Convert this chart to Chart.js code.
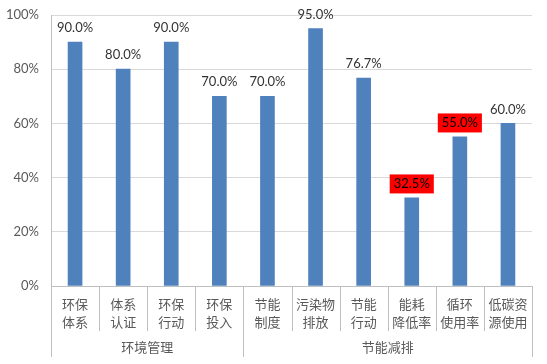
<!DOCTYPE html>
<html>
<head>
<meta charset="utf-8">
<script src="https://cdn.jsdelivr.net/npm/chart.js@4.4.0/dist/chart.umd.min.js"></script>
<style>
  html, body { margin: 0; padding: 0; background: #fff; }
  #wrap { width: 547px; height: 364px; }
</style>
</head>
<body>
<div id="wrap"><canvas id="chart"></canvas></div>
<script>
// ── Data ─────────────────────────────────────────────
const categories = [
    ["环保", "体系"], ["体系", "认证"], ["环保", "行动"], ["环保", "投入"],
    ["节能", "制度"], ["污染物", "排放"], ["节能", "行动"], ["能耗", "降低率"],
    ["循环", "使用率"], ["低碳资", "源使用"]
];
const values = [90.0, 80.0, 90.0, 70.0, 70.0, 95.0, 76.7, 32.5, 55.0, 60.0];
const groupNames = ["环境管理", "节能减排"];
const groupSizes = [4, 6];
const highlighted = [7, 8];
const yMax = 100;
const yStep = 20;

const FONT = "Lato, 'Noto Sans CJK SC', sans-serif";
const TEXT = "#595959";
const LINE = "#bfbfbf";

// ── Axis decorations: category dividers and group labels ──
const groupAxisPlugin = {
    id: "groupAxis",
    afterDraw(chart) {
        const { ctx } = chart;
        const x = chart.scales.x;
        const base = chart.chartArea.bottom;
        const n = categories.length;
        const edge = (i) => {
            if (i === 0) return x.left;
            if (i === n) return x.right;
            return (x.getPixelForValue(i - 1) + x.getPixelForValue(i)) / 2;
        };
        const groupEdges = [0];
        groupSizes.reduce((acc, s) => { groupEdges.push(acc + s); return acc + s; }, 0);

        ctx.save();
        ctx.strokeStyle = LINE;
        ctx.lineWidth = 1;
        for (let i = 0; i <= n; i++) {
            const px = Math.round(edge(i)) + 0.5;
            const bottom = groupEdges.includes(i) ? base + 71 : base + 45;
            ctx.beginPath();
            ctx.moveTo(px, base);
            ctx.lineTo(px, bottom);
            ctx.stroke();
        }

        ctx.fillStyle = TEXT;
        ctx.font = "13px " + FONT;
        ctx.textAlign = "center";
        ctx.textBaseline = "middle";
        groupNames.forEach((name, g) => {
            const cx = (edge(groupEdges[g]) + edge(groupEdges[g + 1])) / 2;
            ctx.fillText(name, cx, base + 62);
        });
        ctx.restore();
    }
};

// ── Value labels above bars ──────────────────────────
const valueLabelPlugin = {
    id: "valueLabels",
    afterDatasetsDraw(chart) {
        const { ctx } = chart;
        const meta = chart.getDatasetMeta(0);
        ctx.save();
        ctx.font = "13px " + FONT;
        ctx.textAlign = "center";
        ctx.textBaseline = "middle";
        meta.data.forEach((bar, i) => {
            const text = values[i].toFixed(1) + "%";
            const cy = bar.y - 14;
            const hot = highlighted.includes(i);
            if (hot) {
                const w = ctx.measureText(text).width + 8;
                ctx.fillStyle = "#ff0000";
                ctx.fillRect(bar.x - w / 2, cy - 9.5, w, 19);
            }
            ctx.fillStyle = hot ? "#000000" : "#333333";
            ctx.fillText(text, bar.x, cy);
        });
        ctx.restore();
    }
};

new Chart(document.getElementById("chart"), {
    type: "bar",
    data: {
        labels: categories,
        datasets: [{
            data: values,
            backgroundColor: "#4f81bd",
            borderWidth: 0,
            barThickness: 14
        }]
    },
    options: {
        responsive: true,
        maintainAspectRatio: false,
        animation: false,
        layout: {
            padding: { left: 0, right: 15, top: 15, bottom: 0 }
        },
        plugins: {
            legend: { display: false },
            tooltip: { enabled: false }
        },
        scales: {
            x: {
                grid: { display: false, drawTicks: false },
                border: { color: LINE },
                ticks: {
                    color: TEXT,
                    padding: 9,
                    maxRotation: 0,
                    autoSkip: false,
                    font: { family: FONT, size: 13, lineHeight: 1.45 }
                },
                afterFit(scale) { scale.height = 78; }
            },
            y: {
                min: 0,
                max: yMax,
                grid: { color: "#d9d9d9", drawTicks: false },
                border: { color: LINE },
                ticks: {
                    stepSize: yStep,
                    color: TEXT,
                    padding: 12,
                    // small line height keeps the top label from pushing the plot down
                    font: { family: FONT, size: 13, lineHeight: 0.3 },
                    callback: (v) => v + "%"
                },
                afterFit(scale) { scale.width = 51; }
            }
        }
    },
    plugins: [groupAxisPlugin, valueLabelPlugin]
});
</script>
</body>
</html>
